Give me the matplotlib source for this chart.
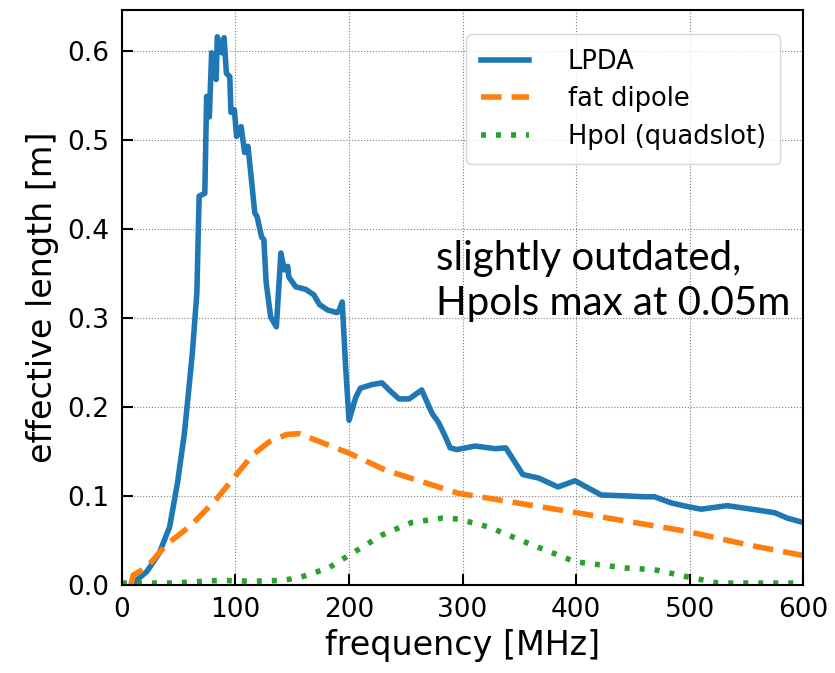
import numpy as np
import matplotlib
matplotlib.use('Agg')
import matplotlib.pyplot as plt

#LPDA effective length
lpda_f = [10, 22, 33, 42, 49, 55, 58, 62, 66, 68, 73, 74.6, 77, 79, 83, 84, 88, 90, 92, 95,
	96, 99, 101, 105, 108, 111, 114, 117, 119, 123, 125, 127, 131, 136, 140, 143, 146,
	147, 153, 162, 169, 174, 181, 189, 191, 194, 197, 200, 206, 210, 220, 229, 237, 244,
	253, 264, 273, 279, 285, 289, 295, 311, 329, 338, 353, 367, 384, 399, 409, 422, 443,
	460, 469, 484, 498, 510, 533, 560, 575, 586, 600]
lpda_l = [0.002, 0.015, 0.036, 0.065, 0.115, 0.17, 0.208, 0.26, 0.328, 0.437, 0.44, 0.549,
	0.526, 0.598, 0.568, 0.616, 0.598, 0.615, 0.575, 0.571, 0.531, 0.534, 0.504, 0.515,
	0.486, 0.493, 0.456, 0.418, 0.414, 0.391, 0.388, 0.34, 0.301, 0.29, 0.373, 0.354,
	0.358, 0.346, 0.335, 0.332, 0.326, 0.315, 0.309, 0.306, 0.307, 0.318, 0.245, 0.185,
	0.211, 0.221, 0.225, 0.227, 0.217, 0.209, 0.209, 0.219, 0.193, 0.182, 0.166, 0.154,
	0.152, 0.156, 0.153, 0.154, 0.124, 0.12, 0.11, 0.117, 0.11, 0.101, 0.1, 0.099, 0.099,
	0.092, 0.088, 0.085, 0.089, 0.084, 0.081, 0.075, 0.07]

#fat dipole
dip_f = [8, 10, 22, 39, 61, 83, 99, 115, 130, 145, 156, 174, 200, 232, 259, 296, 396, 498, 551, 600]
dip_l = [0.0, 0.011, 0.02, 0.045, 0.067, 0.096, 0.121, 0.146, 0.161, 0.169, 0.170, 0.161,
	0.148, 0.129, 0.118, 0.103, 0.082, 0.06, 0.045, 0.033]

#Hpol (quadslot)
hpol_f = [0, 45, 86, 115, 141, 156, 182, 206, 229, 255, 282, 296, 323, 361, 399, 443, 469,
	498, 525, 560, 600]
hpol_l = [0.002, 0.002, 0.005, 0.004, 0.005, 0.008, 0.019, 0.038, 0.056, 0.07, 0.075, 0.074,
	0.065, 0.045, 0.026, 0.019, 0.017, 0.009, 0.002, 0.002, 0.002]

def main():
	fig = plt.figure(figsize=(8.35, 6.73), dpi=100)
	ax = fig.add_axes([0.146, 0.131, 0.816, 0.854])

	ax.plot(lpda_f, lpda_l, color='#1f77b4', lw=4, label='LPDA')
	ax.plot(dip_f, dip_l, color='#ff7f0e', lw=4, ls=(0, (3.7, 1.8)), label='fat dipole')
	ax.plot(hpol_f, hpol_l, color='#2ca02c', lw=4, ls=(0, (0.9, 1.8)), label='Hpol (quadslot)')

	ax.set_xlim(0, 600)
	ax.set_ylim(0, 0.646)
	ax.set_xticks([0, 100, 200, 300, 400, 500, 600])
	ax.set_yticks([0.0, 0.1, 0.2, 0.3, 0.4, 0.5, 0.6])
	ax.tick_params(direction='in', length=8, width=1.5, labelsize=19, pad=9)
	for s in ax.spines.values():
		s.set_linewidth(1.5)
	ax.grid(True, ls=':', color='gray', lw=0.8)
	ax.set_xlabel('frequency [MHz]', fontsize=24, labelpad=4)
	ax.set_ylabel('effective length [m]', fontsize=24, labelpad=6)
	ax.legend(loc='upper right', fontsize=18.5, handlelength=1.9, borderpad=0.55,
		labelspacing=0.45, handletextpad=1.5, bbox_to_anchor=(0.985, 0.98))

	fig.text(0.522, 0.522, 'slightly outdated,\nHpols max at 0.05m', fontsize=29,
		family=['Lato', 'DejaVu Sans'], linespacing=1.25, va='bottom')

	fig.savefig('out.png', dpi=100)

if __name__ == '__main__':
	main()
